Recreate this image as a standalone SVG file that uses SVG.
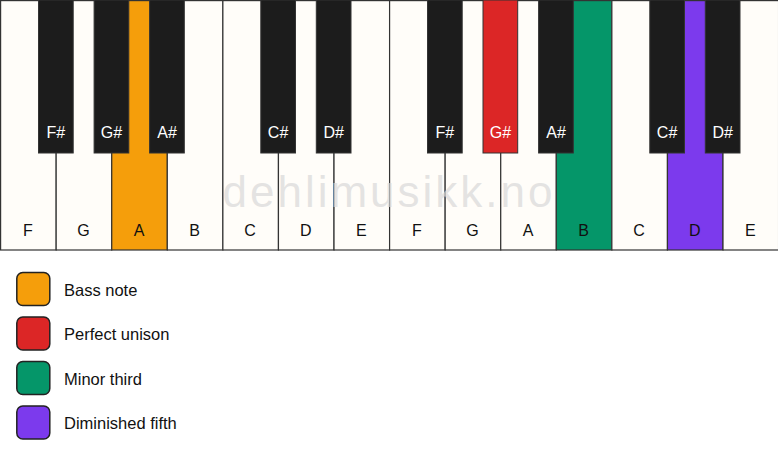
<svg xmlns="http://www.w3.org/2000/svg" width="778" height="461" viewBox="0 0 778 461">
<style>
.w{fill:#fffdf9;stroke:#333;stroke-width:1.2}
.b{fill:#1c1c1c;stroke:#333;stroke-width:1}
.wl{font-family:"Liberation Sans",Arial,sans-serif;font-size:16px;fill:#111;text-anchor:middle}
.bl{font-family:"Liberation Sans",Arial,sans-serif;font-size:16px;fill:#fff;text-anchor:middle}
.lg{stroke:#222;stroke-width:1.5}
.lt{font-family:"Liberation Sans",Arial,sans-serif;font-size:16.5px;fill:#111}
.wm{font-family:"Liberation Sans",Arial,sans-serif;font-size:44px;fill:#d8d8d8;fill-opacity:0.7;text-anchor:middle;letter-spacing:3px}
</style>
<rect width="778" height="461" fill="#ffffff"/>
<g id="white-keys">
<g id="wk-F1"><rect class="w" x="0.6" y="0.6" width="55.57" height="249.4"/><text class="wl" x="27.8" y="236">F</text></g>
<g id="wk-G1"><rect class="w" x="56.17" y="0.6" width="55.57" height="249.4"/><text class="wl" x="83.4" y="236">G</text></g>
<g id="wk-A1"><rect class="w" x="111.74" y="0.6" width="55.57" height="249.4" style="fill:#f59e0b"/><text class="wl" x="139" y="236">A</text></g>
<g id="wk-B1"><rect class="w" x="167.31" y="0.6" width="55.57" height="249.4"/><text class="wl" x="194.6" y="236">B</text></g>
<g id="wk-C1"><rect class="w" x="222.88" y="0.6" width="55.57" height="249.4"/><text class="wl" x="250.1" y="236">C</text></g>
<g id="wk-D1"><rect class="w" x="278.45" y="0.6" width="55.57" height="249.4"/><text class="wl" x="305.7" y="236">D</text></g>
<g id="wk-E1"><rect class="w" x="334.02" y="0.6" width="55.57" height="249.4"/><text class="wl" x="361.3" y="236">E</text></g>
<g id="wk-F2"><rect class="w" x="389.59" y="0.6" width="55.57" height="249.4"/><text class="wl" x="416.9" y="236">F</text></g>
<g id="wk-G2"><rect class="w" x="445.16" y="0.6" width="55.57" height="249.4"/><text class="wl" x="472.4" y="236">G</text></g>
<g id="wk-A2"><rect class="w" x="500.73" y="0.6" width="55.57" height="249.4"/><text class="wl" x="528" y="236">A</text></g>
<g id="wk-B2"><rect class="w" x="556.3" y="0.6" width="55.57" height="249.4" style="fill:#059669"/><text class="wl" x="583.6" y="236">B</text></g>
<g id="wk-C2"><rect class="w" x="611.87" y="0.6" width="55.57" height="249.4"/><text class="wl" x="639.1" y="236">C</text></g>
<g id="wk-D2"><rect class="w" x="667.44" y="0.6" width="55.57" height="249.4" style="fill:#7c3aed"/><text class="wl" x="694.7" y="236">D</text></g>
<g id="wk-E2"><rect class="w" x="723.01" y="0.6" width="55.57" height="249.4"/><text class="wl" x="750.3" y="236">E</text></g>
</g>
<text class="wm" x="389" y="207">dehlimusikk.no</text>
<g id="black-keys">
<g id="bk-Fs1"><rect class="b" x="38.5" y="0" width="34.7" height="153"/><text class="bl" x="55.8" y="138">F#</text></g>
<g id="bk-Gs1"><rect class="b" x="94.1" y="0" width="34.7" height="153"/><text class="bl" x="111.4" y="138">G#</text></g>
<g id="bk-As1"><rect class="b" x="149.6" y="0" width="34.7" height="153"/><text class="bl" x="167" y="138">A#</text></g>
<g id="bk-Cs1"><rect class="b" x="260.8" y="0" width="34.7" height="153"/><text class="bl" x="278.1" y="138">C#</text></g>
<g id="bk-Ds1"><rect class="b" x="316.3" y="0" width="34.7" height="153"/><text class="bl" x="333.7" y="138">D#</text></g>
<g id="bk-Fs2"><rect class="b" x="427.5" y="0" width="34.7" height="153"/><text class="bl" x="444.8" y="138">F#</text></g>
<g id="bk-Gs2"><rect class="b" x="483" y="0" width="34.7" height="153" style="fill:#dc2626"/><text class="bl" x="500.4" y="138">G#</text></g>
<g id="bk-As2"><rect class="b" x="538.6" y="0" width="34.7" height="153"/><text class="bl" x="556" y="138">A#</text></g>
<g id="bk-Cs2"><rect class="b" x="649.8" y="0" width="34.7" height="153"/><text class="bl" x="667.1" y="138">C#</text></g>
<g id="bk-Ds2"><rect class="b" x="705.3" y="0" width="34.7" height="153"/><text class="bl" x="722.7" y="138">D#</text></g>
</g>
<g id="legend">
<g id="lg-bass"><rect class="lg" x="16.8" y="272.5" width="33" height="33" rx="6" fill="#f59e0b"/><text class="lt" x="64" y="295.5">Bass note</text></g>
<g id="lg-unison"><rect class="lg" x="16.8" y="317" width="33" height="33" rx="6" fill="#dc2626"/><text class="lt" x="64" y="340">Perfect unison</text></g>
<g id="lg-third"><rect class="lg" x="16.8" y="361.5" width="33" height="33" rx="6" fill="#059669"/><text class="lt" x="64" y="384.5">Minor third</text></g>
<g id="lg-fifth"><rect class="lg" x="16.8" y="406" width="33" height="33" rx="6" fill="#7c3aed"/><text class="lt" x="64" y="429">Diminished fifth</text></g>
</g>
<g id="connectors"/>
</svg>
